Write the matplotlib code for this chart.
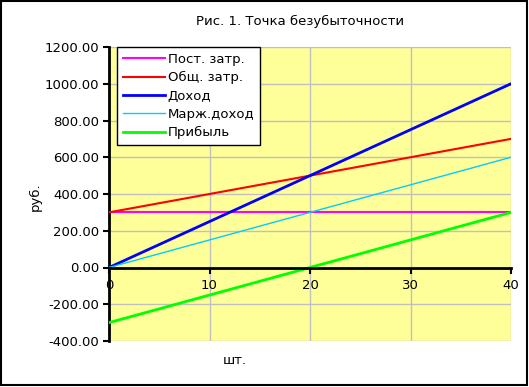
import matplotlib
matplotlib.use("Agg")
import matplotlib.pyplot as plt
from matplotlib.patches import Rectangle

plt.rcParams['font.family'] = ['DejaVu Sans']

x_units = [0, 10, 20, 30, 40]
fixed_costs = [300, 300, 300, 300, 300]
total_costs = [300, 400, 500, 600, 700]
revenue = [0, 250, 500, 750, 1000]
margin_income = [0, 150, 300, 450, 600]
profit = [-300, -150, 0, 150, 300]

series_names = ["Пост. затр.", "Общ. затр.", "Доход", "Марж.доход", "Прибыль"]
series_values = [fixed_costs, total_costs, revenue, margin_income, profit]
series_colors = ["#FF00FF", "#FF0000", "#0000FF", "#00CCFF", "#00FF00"]
series_widths = [1.5, 1.5, 2.0, 1.0, 2.0]

y_ticks = [-400, -200, 0, 200, 400, 600, 800, 1000, 1200]
x_ticks = [0, 10, 20, 30, 40]

FS = 9.5
W, H = 529, 387
fig = plt.figure(figsize=(W / 100, H / 100), dpi=100)
fig.patch.set_facecolor("white")
fig.patches.append(Rectangle((0.001, 0.004), 0.995, 0.994, transform=fig.transFigure,
                             fill=False, edgecolor="black", linewidth=1.5))

left, right, top, bottom = 109, 511, 47, 341
ax = fig.add_axes([left / W, 1 - bottom / H, (right - left) / W, (bottom - top) / H])
ax.set_facecolor("#FFFF99")

for name, vals, c, lw in zip(series_names, series_values, series_colors, series_widths):
    ax.plot(x_units, vals, color=c, linewidth=lw, label=name, zorder=3)

ax.set_xlim(0, 40)
ax.set_ylim(-400, 1200)
ax.set_yticks(y_ticks)
ax.set_yticklabels([f"{v:.2f}" for v in y_ticks])
ax.set_xticks(x_ticks)
ax.set_xticklabels([str(v) for v in x_ticks])

ax.grid(True, color="#C0C0C0", linewidth=1.0, zorder=1)
ax.set_axisbelow(True)
for s in ["top", "right"]:
    ax.spines[s].set_visible(False)
ax.spines["left"].set_linewidth(2)
ax.spines["left"].set_color("black")
ax.spines["bottom"].set_position(("data", 0))
ax.spines["bottom"].set_linewidth(2)
ax.spines["bottom"].set_zorder(4)

ax.tick_params(axis="y", direction="out", length=4, width=1.5, labelsize=FS, pad=3)
ax.tick_params(axis="x", direction="out", length=4, width=1.5, labelsize=FS, pad=4)

ax.set_ylabel("руб.", fontsize=FS)
ax.yaxis.set_label_coords(-0.168, 0.49)
fig.text(235 / W, 1 - 360 / H, "шт.", fontsize=FS, ha="center", va="center")
fig.text(300 / W, 1 - 21 / H, "Рис. 1. Точка безубыточности", fontsize=FS, ha="center", va="center")

leg = ax.legend(loc="upper left", bbox_to_anchor=(8 / (right - left), 1.0), fontsize=FS,
                frameon=True, fancybox=False, edgecolor="black", framealpha=1,
                handlelength=3.2, handletextpad=0.2, borderpad=0.45, labelspacing=0.4,
                borderaxespad=0)
leg.get_frame().set_linewidth(1.0)
leg.set_zorder(5)

fig.savefig("out.png", dpi=100)
